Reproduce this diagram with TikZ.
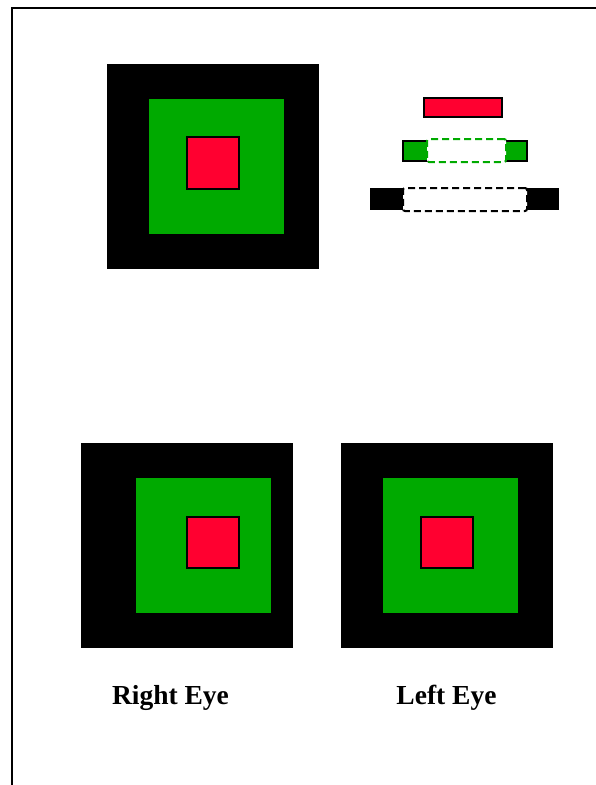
\documentclass[tikz,border=0pt]{standalone}
\usepackage{fontspec}
\setmainfont{Liberation Serif}
\definecolor{eyegreen}{RGB}{0,170,0}
\definecolor{eyered}{RGB}{255,0,48}
\begin{document}
\begin{tikzpicture}[x=1pt,y=-1pt,
  box/.style={rectangle,inner sep=0pt,outer sep=0pt},
  blackbox/.style={box,fill=black},
  greenbox/.style={box,fill=eyegreen},
  redbox/.style={box,fill=eyered,draw=black,line width=2pt},
  greenbar/.style={box,fill=eyegreen,draw=black,line width=2pt},
  greendash/.style={box,fill=white,draw=eyegreen,line width=2pt,dash pattern=on 7pt off 4pt,rounded corners=2pt},
  blackdash/.style={box,fill=white,draw=black,line width=2pt,dash pattern=on 7pt off 4pt,rounded corners=2pt},
  eyelabel/.style={anchor=base,font=\fontsize{27.5}{30}\selectfont\bfseries,inner sep=0pt}]
\useasboundingbox (0,0) rectangle (596,785);
\fill[white] (0,0) rectangle (596,785);
% frame
\coordinate (fbl) at (11.5,790);
\coordinate (ftl) at (11.5,7.5);
\coordinate (ftr) at (600,7.5);
\draw[line width=2pt] (fbl) -- (ftl) -- (ftr);
% top figure
\node[blackbox,minimum width=212pt,minimum height=205pt] (tb) at (213,166.5) {};
\node[greenbox,minimum width=135pt,minimum height=135pt] (tg) at (216.5,166.5) {};
\node[redbox,minimum width=52pt,minimum height=52pt] (tr) at (213,163) {};
% bars
\node[redbox,minimum width=78pt,minimum height=19pt] (rbar) at (463,107.5) {};
\node[greenbar,minimum width=124pt,minimum height=20pt] (gbar) at (465,151) {};
\node[greendash,minimum width=79pt,minimum height=23pt] (gdash) at (466.5,150.5) {};
\node[blackbox,minimum width=189pt,minimum height=22pt] (bbar) at (464.5,199) {};
\node[blackdash,minimum width=124pt,minimum height=23pt] (bdash) at (465,199.5) {};
% right eye
\node[blackbox,minimum width=212pt,minimum height=205pt] (rb) at (187,545.5) {};
\node[greenbox,minimum width=135pt,minimum height=135pt] (rg) at (203.5,545.5) {};
\node[redbox,minimum width=52pt,minimum height=51pt] (rr) at (213,542.5) {};
% left eye
\node[blackbox,minimum width=212pt,minimum height=205pt] (lb) at (447,545.5) {};
\node[greenbox,minimum width=135pt,minimum height=135pt] (lg) at (450.5,545.5) {};
\node[redbox,minimum width=52pt,minimum height=51pt] (lr) at (447,542.5) {};
% labels
\node[eyelabel] (rl) at (170.5,704) {Right Eye};
\node[eyelabel] (ll) at (446.5,704) {Left Eye};
\end{tikzpicture}
\end{document}
